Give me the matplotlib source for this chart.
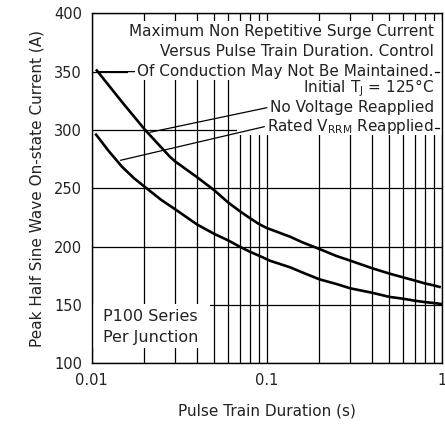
import matplotlib
matplotlib.use("Agg")
import matplotlib.pyplot as plt
from matplotlib.patches import Rectangle
from matplotlib.ticker import NullFormatter, LogLocator

# ---- data ----
x_no_voltage = [0.0107, 0.0149, 0.0202, 0.028, 0.03, 0.04, 0.048, 0.05, 0.06, 0.07, 0.08, 0.09, 0.1,
                0.136, 0.161, 0.2, 0.25, 0.3, 0.4, 0.5, 0.6, 0.7, 0.8, 0.9, 0.97]
y_no_voltage = [351, 324, 300, 277, 273, 259.5, 250.5, 248.5, 238, 230.5, 224.5, 219.5, 216,
                208.5, 203.5, 198, 192, 188, 181.5, 177, 173.7, 171, 168.5, 166.8, 165.5]

x_rated = [0.0106, 0.0125, 0.0149, 0.0175, 0.0202, 0.025, 0.03, 0.04, 0.05, 0.06, 0.07, 0.08, 0.095,
           0.104, 0.136, 0.161, 0.2, 0.25, 0.3, 0.4, 0.5, 0.6, 0.7, 0.8, 0.9, 1.0]
y_rated = [296, 282, 268.5, 258.5, 251, 240, 232, 219, 211, 205.5, 200, 195.7, 190.8,
           188, 182.3, 177.7, 172, 168, 164.3, 160.5, 157, 155.4, 153.7, 152.5, 151.7, 150.8]

y_ticks = [100, 150, 200, 250, 300, 350, 400]
x_ticks = [0.01, 0.1, 1]
x_ticklabels = ["0.01", "0.1", "1"]

plt.rcParams['font.family'] = ['DejaVu Sans']
TXT = '#222222'

fig = plt.figure(figsize=(4.45, 4.28), dpi=100)
ax = fig.add_axes([0.206, 0.151, 0.787, 0.818])

ax.set_xscale('log')
ax.set_xlim(0.01, 1)
ax.set_ylim(100, 400)

ax.plot(x_no_voltage, y_no_voltage, color='black', lw=1.9, zorder=3)
ax.plot(x_rated, y_rated, color='black', lw=1.9, zorder=3)

ax.set_xticks(x_ticks)
ax.set_xticklabels(x_ticklabels)
ax.xaxis.set_minor_locator(LogLocator(base=10, subs=range(2, 10)))
ax.xaxis.set_minor_formatter(NullFormatter())
ax.set_yticks(y_ticks)
ax.tick_params(which='both', length=0, labelsize=10.5, colors=TXT, pad=7)
ax.grid(which='both', axis='x', color='black', lw=0.9)
ax.grid(which='major', axis='y', color='black', lw=0.9)
for s in ax.spines.values():
    s.set_linewidth(1.0)
    s.set_zorder(6)

ax.set_xlabel('Pulse Train Duration (s)', fontsize=11, color=TXT, labelpad=11)
ax.set_ylabel('Peak Half Sine Wave On-state Current (A)', fontsize=11, color=TXT, labelpad=7)

# white areas behind the note text (grid hidden there, as in the original)
for (x0, y0, w, h) in [(0.104, 0.809, 0.896, 0.170), (0.415, 0.652, 0.585, 0.160),
                       (0.0, 0.045, 0.338, 0.125)]:
    ax.add_patch(Rectangle((x0, y0), w, h, transform=ax.transAxes, facecolor='white',
                           edgecolor='none', zorder=3.5))

tx = 0.977
fs = 11
for txt, ty in [("Maximum Non Repetitive Surge Current", 0.947),
                ("Versus Pulse Train Duration. Control", 0.890),
                ("Initial T$_\\mathregular{J}$ = 125°C", 0.786)]:
    ax.text(tx, ty, txt, transform=ax.transAxes, ha='right', va='center',
            fontsize=fs, color=TXT, zorder=4)

leader = dict(arrowstyle='-', color='black', lw=0.9, shrinkA=0, shrinkB=0, relpos=(0, 0.5))
ax.annotate("Of Conduction May Not Be Maintained.", xy=(x_no_voltage[0], 350),
            xytext=(tx, 0.8333), textcoords='axes fraction', ha='right', va='center',
            fontsize=fs, color=TXT, arrowprops=leader, zorder=4)
ax.annotate("No Voltage Reapplied", xy=(0.0215, 298),
            xytext=(tx, 0.732), textcoords='axes fraction', ha='right', va='center',
            fontsize=fs, color=TXT, arrowprops=leader, zorder=4)
ax.annotate("Rated V$_\\mathregular{RRM}$ Reapplied", xy=(0.0146, 274),
            xytext=(tx, 0.678), textcoords='axes fraction', ha='right', va='center',
            fontsize=fs, color=TXT, arrowprops=leader, zorder=4)

# short ticks after the two leader rows, as in the original drawing
for ty in (0.8333, 0.673):
    ax.plot([0.981, 0.991], [ty, ty], transform=ax.transAxes, color='black', lw=0.9, zorder=5)

ax.text(0.032, 0.133, "P100 Series", transform=ax.transAxes, ha='left', va='center',
        fontsize=11.5, color=TXT, zorder=4)
ax.text(0.032, 0.075, "Per Junction", transform=ax.transAxes, ha='left', va='center',
        fontsize=11.5, color=TXT, zorder=4)

fig.savefig('out.png', dpi=100)
